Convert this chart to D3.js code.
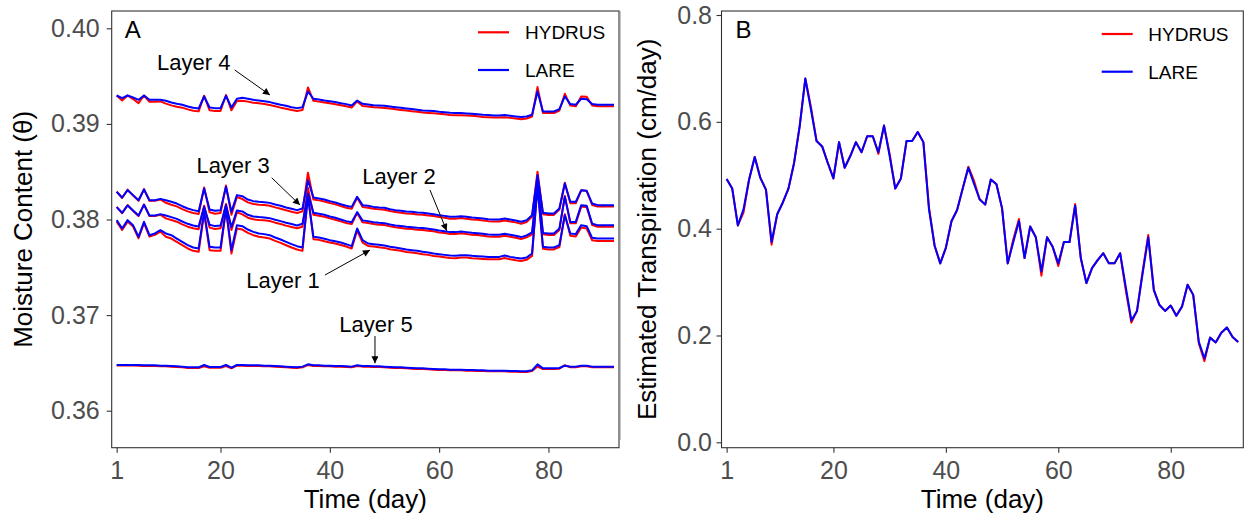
<!DOCTYPE html>
<html>
<head>
<meta charset="utf-8">
<script src="https://cdn.jsdelivr.net/npm/d3@7"></script>
<style>
	body { margin: 0; background: #fff; }
	svg { font-family: 'Liberation Sans', Arial, sans-serif; display: block; }
</style>
</head>
<body>
<svg id="chart" width="1244" height="519"></svg>
<script>
// day index shared by every series
const days = d3.range(1, 93)

// Panel A: soil moisture per layer, HYDRUS and LARE
const layer1Hydrus = [0.37978, 0.37891, 0.37978, 0.37926, 0.37804, 0.37961, 0.37821, 0.37839, 0.37873, 0.37819, 0.37801, 0.37766, 0.37731, 0.37697, 0.37672, 0.37662, 0.3807, 0.37679, 0.37672, 0.37672, 0.38105, 0.37644, 0.37906, 0.37895, 0.3786, 0.37836, 0.37819, 0.37812, 0.37801, 0.37777, 0.37756, 0.37731, 0.37707, 0.37686, 0.37672, 0.38257, 0.37794, 0.37787, 0.37773, 0.37759, 0.37748, 0.37734, 0.37717, 0.37696, 0.37886, 0.37759, 0.37724, 0.37717, 0.3771, 0.37703, 0.37689, 0.37682, 0.37672, 0.37661, 0.37654, 0.37647, 0.37637, 0.3763, 0.37619, 0.37612, 0.37605, 0.37598, 0.37595, 0.37602, 0.37602, 0.37595, 0.37591, 0.37588, 0.37584, 0.37584, 0.37584, 0.37598, 0.37584, 0.37574, 0.37567, 0.37578, 0.37619, 0.38362, 0.37694, 0.37687, 0.37687, 0.37712, 0.38055, 0.37829, 0.37822, 0.37916, 0.37905, 0.37783, 0.37776, 0.37776, 0.37776, 0.37776]
const layer1Lare = [0.37993, 0.37906, 0.37993, 0.37941, 0.37819, 0.37976, 0.37836, 0.37854, 0.37888, 0.37854, 0.37836, 0.37801, 0.37766, 0.37732, 0.37707, 0.37697, 0.3808, 0.37714, 0.37707, 0.37707, 0.38115, 0.37679, 0.37941, 0.3793, 0.37895, 0.37871, 0.37854, 0.37847, 0.37836, 0.37812, 0.37791, 0.37766, 0.37742, 0.37721, 0.37707, 0.38237, 0.37819, 0.37812, 0.37798, 0.37784, 0.37773, 0.37759, 0.37742, 0.37721, 0.37906, 0.37784, 0.37749, 0.37742, 0.37735, 0.37728, 0.37714, 0.37707, 0.37697, 0.37686, 0.37679, 0.37672, 0.37662, 0.37655, 0.37644, 0.37637, 0.3763, 0.37623, 0.3762, 0.37627, 0.37627, 0.3762, 0.37616, 0.37613, 0.37609, 0.37609, 0.37609, 0.37623, 0.37609, 0.37599, 0.37592, 0.37603, 0.37644, 0.38342, 0.37714, 0.37707, 0.37707, 0.37732, 0.38045, 0.37854, 0.37847, 0.37941, 0.3793, 0.37808, 0.37801, 0.37801, 0.37801, 0.37801]
const layer2Hydrus = [0.38133, 0.38065, 0.38152, 0.3809, 0.38036, 0.38158, 0.38036, 0.38036, 0.3805, 0.38012, 0.37995, 0.37977, 0.37949, 0.37925, 0.37908, 0.37897, 0.38144, 0.37915, 0.37901, 0.37908, 0.38162, 0.3789, 0.38075, 0.38054, 0.38019, 0.38002, 0.37995, 0.37991, 0.37984, 0.37967, 0.37953, 0.37936, 0.37922, 0.37908, 0.37925, 0.38331, 0.3805, 0.3804, 0.38029, 0.38012, 0.37998, 0.3798, 0.37963, 0.37952, 0.38067, 0.3797, 0.37963, 0.37952, 0.37946, 0.37942, 0.37928, 0.37918, 0.37911, 0.37904, 0.379, 0.37893, 0.3789, 0.37883, 0.37876, 0.37865, 0.37858, 0.37848, 0.37848, 0.37855, 0.37848, 0.37841, 0.37837, 0.3783, 0.37823, 0.3782, 0.3782, 0.3783, 0.3782, 0.3781, 0.37796, 0.37813, 0.37845, 0.38424, 0.37845, 0.37838, 0.37838, 0.3789, 0.38247, 0.3796, 0.3796, 0.38135, 0.38128, 0.37942, 0.37925, 0.37925, 0.37925, 0.37925]
const layer2Lare = [0.38129, 0.3807, 0.38147, 0.38095, 0.38042, 0.38154, 0.38042, 0.38042, 0.38056, 0.38042, 0.38025, 0.38007, 0.37979, 0.37955, 0.37938, 0.37927, 0.38134, 0.37945, 0.37931, 0.37938, 0.38152, 0.3792, 0.38095, 0.38084, 0.38049, 0.38032, 0.38025, 0.38021, 0.38014, 0.37997, 0.37983, 0.37966, 0.37952, 0.37938, 0.37955, 0.38271, 0.3807, 0.3806, 0.38049, 0.38032, 0.38018, 0.38, 0.37983, 0.37972, 0.38077, 0.3799, 0.37983, 0.37972, 0.37966, 0.37962, 0.37948, 0.37938, 0.37931, 0.37924, 0.3792, 0.37913, 0.3791, 0.37903, 0.37896, 0.37885, 0.37878, 0.37868, 0.37868, 0.37875, 0.37868, 0.37861, 0.37857, 0.3785, 0.37843, 0.3784, 0.3784, 0.3785, 0.3784, 0.3783, 0.37816, 0.37833, 0.37865, 0.38384, 0.3786, 0.37853, 0.37853, 0.37905, 0.38237, 0.37975, 0.37975, 0.3815, 0.38143, 0.37957, 0.3794, 0.3794, 0.3794, 0.3794]
const layer3Hydrus = [0.38293, 0.38225, 0.38312, 0.3825, 0.38196, 0.38318, 0.38196, 0.38196, 0.3821, 0.38175, 0.38155, 0.38137, 0.38109, 0.38085, 0.38068, 0.38057, 0.38335, 0.38075, 0.38061, 0.38068, 0.38355, 0.3805, 0.38235, 0.38214, 0.38179, 0.38162, 0.38155, 0.38151, 0.38144, 0.38127, 0.38113, 0.38096, 0.38082, 0.38068, 0.38085, 0.3849, 0.3821, 0.382, 0.38189, 0.38172, 0.38158, 0.3814, 0.38123, 0.38112, 0.38227, 0.3813, 0.38123, 0.38112, 0.38106, 0.38102, 0.38088, 0.38078, 0.38071, 0.38064, 0.3806, 0.38053, 0.3805, 0.38043, 0.38036, 0.38025, 0.38018, 0.38008, 0.38008, 0.38015, 0.38008, 0.38001, 0.37997, 0.3799, 0.37983, 0.3798, 0.3798, 0.3799, 0.3798, 0.3797, 0.37956, 0.37973, 0.3803, 0.385, 0.38055, 0.38048, 0.38048, 0.38105, 0.38385, 0.3817, 0.3817, 0.38305, 0.38298, 0.38152, 0.38135, 0.38135, 0.38135, 0.38135]
const layer3Lare = [0.38289, 0.3823, 0.38307, 0.38255, 0.38202, 0.38314, 0.38202, 0.38202, 0.38216, 0.38202, 0.38185, 0.38167, 0.38139, 0.38115, 0.38098, 0.38087, 0.38324, 0.38105, 0.38091, 0.38098, 0.38342, 0.3808, 0.38255, 0.38244, 0.38209, 0.38192, 0.38185, 0.38181, 0.38174, 0.38157, 0.38143, 0.38126, 0.38112, 0.38098, 0.38115, 0.38411, 0.3823, 0.3822, 0.38209, 0.38192, 0.38178, 0.3816, 0.38143, 0.38132, 0.38237, 0.3815, 0.38143, 0.38132, 0.38126, 0.38122, 0.38108, 0.38098, 0.38091, 0.38084, 0.3808, 0.38073, 0.3807, 0.38063, 0.38056, 0.38045, 0.38038, 0.38028, 0.38028, 0.38035, 0.38028, 0.38021, 0.38017, 0.3801, 0.38003, 0.38, 0.38, 0.3801, 0.38, 0.3799, 0.37976, 0.37993, 0.38045, 0.38464, 0.3807, 0.38063, 0.38063, 0.38115, 0.38377, 0.38185, 0.38185, 0.38307, 0.383, 0.38167, 0.3815, 0.3815, 0.3815, 0.3815]
const layer4Hydrus = [0.39297, 0.39245, 0.39297, 0.3926, 0.39217, 0.39297, 0.39232, 0.39232, 0.39235, 0.39212, 0.39194, 0.3918, 0.3917, 0.39152, 0.39138, 0.39131, 0.39295, 0.39142, 0.39135, 0.39135, 0.39302, 0.39142, 0.3924, 0.39243, 0.39233, 0.39222, 0.39215, 0.39208, 0.39198, 0.39184, 0.3917, 0.39159, 0.39145, 0.39135, 0.39145, 0.39381, 0.39241, 0.39233, 0.39223, 0.39216, 0.39206, 0.39195, 0.39185, 0.39171, 0.39235, 0.39188, 0.39181, 0.39174, 0.39171, 0.39167, 0.3916, 0.39153, 0.39146, 0.39139, 0.39133, 0.39126, 0.39119, 0.39115, 0.39112, 0.39105, 0.39101, 0.39094, 0.39091, 0.39091, 0.39087, 0.39084, 0.3908, 0.39073, 0.3907, 0.39066, 0.39066, 0.3907, 0.39063, 0.39056, 0.39049, 0.39056, 0.39078, 0.39385, 0.39113, 0.39113, 0.39113, 0.3914, 0.39315, 0.39192, 0.39185, 0.39287, 0.39283, 0.39192, 0.39185, 0.39185, 0.39185, 0.39185]
const layer4Lare = [0.39297, 0.3927, 0.39297, 0.39277, 0.39252, 0.39297, 0.39252, 0.39252, 0.39252, 0.39242, 0.39224, 0.3921, 0.392, 0.39182, 0.39168, 0.39161, 0.39287, 0.39172, 0.39165, 0.39165, 0.39294, 0.39172, 0.39263, 0.39273, 0.39263, 0.39252, 0.39245, 0.39238, 0.39228, 0.39214, 0.392, 0.39189, 0.39175, 0.39165, 0.39175, 0.39339, 0.39263, 0.39255, 0.39245, 0.39238, 0.39228, 0.39217, 0.39207, 0.39193, 0.39245, 0.3921, 0.39203, 0.39196, 0.39193, 0.39189, 0.39182, 0.39175, 0.39168, 0.39161, 0.39155, 0.39148, 0.39141, 0.39137, 0.39134, 0.39127, 0.39123, 0.39116, 0.39113, 0.39113, 0.39109, 0.39106, 0.39102, 0.39095, 0.39092, 0.39088, 0.39088, 0.39092, 0.39085, 0.39078, 0.39071, 0.39078, 0.39095, 0.39339, 0.3913, 0.3913, 0.3913, 0.39155, 0.39287, 0.39207, 0.392, 0.39263, 0.39259, 0.39207, 0.392, 0.392, 0.392, 0.392]
const layer5Hydrus = [0.36473, 0.36475, 0.36473, 0.36473, 0.36471, 0.36468, 0.36468, 0.36468, 0.36464, 0.36464, 0.36461, 0.36457, 0.36454, 0.36447, 0.36447, 0.36447, 0.36465, 0.3645, 0.3645, 0.3645, 0.36468, 0.36443, 0.36471, 0.36471, 0.36468, 0.36468, 0.36468, 0.36464, 0.36464, 0.36461, 0.36457, 0.36454, 0.3645, 0.36447, 0.36454, 0.36478, 0.36468, 0.36468, 0.36464, 0.36464, 0.36461, 0.36461, 0.36457, 0.36454, 0.36468, 0.36461, 0.36461, 0.36457, 0.36457, 0.36454, 0.3645, 0.36447, 0.36447, 0.36443, 0.3644, 0.36436, 0.36436, 0.36433, 0.36429, 0.36426, 0.36426, 0.36422, 0.36422, 0.36422, 0.36419, 0.36419, 0.36415, 0.36415, 0.36412, 0.36412, 0.36412, 0.36412, 0.36408, 0.36408, 0.36405, 0.36405, 0.36415, 0.36462, 0.36436, 0.36436, 0.36436, 0.3644, 0.36476, 0.36454, 0.36454, 0.36466, 0.36466, 0.36454, 0.36454, 0.36454, 0.36454, 0.36454]
const layer5Lare = [0.36478, 0.36478, 0.36478, 0.36478, 0.36478, 0.36475, 0.36475, 0.36475, 0.36471, 0.36471, 0.36468, 0.36464, 0.36461, 0.36454, 0.36454, 0.36454, 0.36478, 0.36457, 0.36457, 0.36457, 0.36478, 0.3645, 0.36478, 0.36478, 0.36475, 0.36475, 0.36475, 0.36471, 0.36471, 0.36468, 0.36464, 0.36461, 0.36457, 0.36454, 0.36461, 0.36485, 0.36475, 0.36475, 0.36471, 0.36471, 0.36468, 0.36468, 0.36464, 0.36461, 0.36475, 0.36468, 0.36468, 0.36464, 0.36464, 0.36461, 0.36457, 0.36454, 0.36454, 0.3645, 0.36447, 0.36443, 0.36443, 0.3644, 0.36436, 0.36433, 0.36433, 0.36429, 0.36429, 0.36429, 0.36426, 0.36426, 0.36422, 0.36422, 0.36419, 0.36419, 0.36419, 0.36419, 0.36415, 0.36415, 0.36412, 0.36412, 0.36422, 0.36485, 0.36443, 0.36443, 0.36443, 0.36447, 0.36471, 0.36461, 0.36461, 0.36471, 0.36471, 0.36461, 0.36461, 0.36461, 0.36461, 0.36461]

// Panel B: estimated transpiration (cm/day)
const transpHydrus = [0.493, 0.475, 0.406, 0.43, 0.492, 0.534, 0.495, 0.473, 0.37, 0.427, 0.449, 0.475, 0.523, 0.592, 0.681, 0.628, 0.564, 0.554, 0.523, 0.494, 0.562, 0.514, 0.536, 0.562, 0.543, 0.573, 0.573, 0.54, 0.593, 0.54, 0.475, 0.494, 0.564, 0.564, 0.581, 0.562, 0.44, 0.368, 0.335, 0.364, 0.414, 0.435, 0.475, 0.516, 0.49, 0.455, 0.445, 0.492, 0.483, 0.438, 0.335, 0.38, 0.418, 0.345, 0.404, 0.384, 0.312, 0.384, 0.366, 0.33, 0.375, 0.375, 0.446, 0.345, 0.298, 0.326, 0.341, 0.354, 0.335, 0.335, 0.354, 0.285, 0.224, 0.246, 0.32, 0.388, 0.285, 0.257, 0.246, 0.256, 0.237, 0.254, 0.295, 0.276, 0.185, 0.152, 0.196, 0.187, 0.205, 0.215, 0.197, 0.188]
const transpLare = [0.493, 0.475, 0.406, 0.436, 0.492, 0.534, 0.495, 0.473, 0.375, 0.427, 0.449, 0.475, 0.523, 0.592, 0.681, 0.623, 0.564, 0.554, 0.523, 0.494, 0.562, 0.514, 0.536, 0.562, 0.543, 0.573, 0.573, 0.543, 0.593, 0.536, 0.475, 0.494, 0.564, 0.564, 0.581, 0.562, 0.436, 0.368, 0.335, 0.364, 0.414, 0.435, 0.475, 0.514, 0.484, 0.455, 0.445, 0.492, 0.483, 0.438, 0.335, 0.375, 0.414, 0.345, 0.404, 0.384, 0.32, 0.384, 0.366, 0.335, 0.375, 0.375, 0.443, 0.345, 0.298, 0.326, 0.341, 0.354, 0.335, 0.335, 0.354, 0.291, 0.228, 0.246, 0.316, 0.384, 0.285, 0.257, 0.246, 0.256, 0.237, 0.254, 0.295, 0.276, 0.188, 0.157, 0.196, 0.187, 0.205, 0.215, 0.197, 0.188]

// ticks, labels and legend entries
const dayTicks = [1, 20, 40, 60, 80]
const moistureTicks = [0.36, 0.37, 0.38, 0.39, 0.4]
const transpTicks = [0, 0.2, 0.4, 0.6, 0.8]
const models = ['HYDRUS', 'LARE']
const layerNames = ['Layer 1', 'Layer 2', 'Layer 3', 'Layer 4', 'Layer 5']

const theme = {
	HYDRUS: '#ff0000',
	LARE: '#0000ff',
	frame: '#333333',
	tickText: '#4d4d4d',
	lineWidth: 2,
	fontTick: 25,
	fontTitle: 26,
	fontNote: 22,
	fontLegend: 19,
	fontTag: 24,
}

const svg = d3.select('#chart')

//Arrow head used by the layer annotations
svg
	.append('defs')
	.append('marker')
	.attr('id', 'arrow')
	.attr('viewBox', '0 0 10 10')
	.attr('refX', 10)
	.attr('refY', 5)
	.attr('markerUnits', 'userSpaceOnUse')
	.attr('markerWidth', 9)
	.attr('markerHeight', 7)
	.attr('orient', 'auto')
	.append('path')
	.attr('d', 'M0,0 L10,5 L0,10 z')
	.attr('fill', '#000')

//Thin grey seam left between the two panels
svg
	.append('line')
	.attr('x1', 620.5)
	.attr('x2', 620.5)
	.attr('y1', 11)
	.attr('y2', 440)
	.attr('stroke', '#c4c4c4')
	.attr('stroke-width', 1)

//Draws one panel: frame, axes, lines and legend
function drawPanel(p) {
	const x = d3.scaleLinear().domain([0.09, 92.91]).range([p.left, p.right])
	const y = d3.scaleLinear().domain(p.yDomain).range([p.bottom, p.top])

	const g = svg.append('g')

	//x axis
	const xAxis = g
		.append('g')
		.attr('transform', 'translate(0,' + p.bottom + ')')
		.call(d3.axisBottom(x).tickValues(dayTicks).tickSize(5).tickPadding(9).tickFormat(d3.format('d')))
	styleAxis(xAxis)

	//y axis
	const yAxis = g
		.append('g')
		.attr('transform', 'translate(' + p.left + ',0)')
		.call(d3.axisLeft(y).tickValues(p.yTicks).tickSize(5).tickPadding(p.yPad).tickFormat(d3.format(p.yFormat)))
	styleAxis(yAxis)

	//series, red first so the blue sits on top
	const line = d3
		.line()
		.x((d, i) => x(days[i]))
		.y(d => y(d))

	models.forEach(m => {
		p.series
			.filter(s => s.model == m)
			.forEach(s => {
				g.append('path')
					.attr('d', line(s.values))
					.attr('fill', 'none')
					.attr('stroke', theme[m])
					.attr('stroke-width', theme.lineWidth)
					.attr('stroke-linejoin', 'round')
			})
	})

	//panel border
	g.append('rect')
		.attr('x', p.left)
		.attr('y', p.top)
		.attr('width', p.right - p.left)
		.attr('height', p.bottom - p.top)
		.attr('fill', 'none')
		.attr('stroke', theme.frame)
		.attr('stroke-width', 1.1)

	//panel tag
	g.append('text')
		.attr('x', p.left + p.tagDx)
		.attr('y', p.top + 27)
		.attr('fill', '#000')
		.style('font-size', theme.fontTag + 'px')
		.text(p.tag)

	//legend
	const legend = g.append('g').attr('transform', 'translate(' + p.legendX + ',' + p.legendY + ')')
	models.forEach((m, i) => {
		legend
			.append('line')
			.attr('x1', 0)
			.attr('x2', 31)
			.attr('y1', i * 37.7)
			.attr('y2', i * 37.7)
			.attr('stroke', theme[m])
			.attr('stroke-width', 2.2)
		legend
			.append('text')
			.attr('x', p.legendGap)
			.attr('y', i * 37.7)
			.attr('dy', '0.36em')
			.attr('fill', '#000')
			.style('font-size', theme.fontLegend + 'px')
			.text(m)
	})

	//axis titles
	g.append('text')
		.attr('x', (p.left + p.right) / 2)
		.attr('y', 508)
		.attr('text-anchor', 'middle')
		.attr('fill', '#000')
		.style('font-size', theme.fontTitle + 'px')
		.text('Time (day)')

	g.append('text')
		.attr('transform', 'translate(' + p.titleX + ',' + (p.top + p.bottom) / 2 + ') rotate(-90)')
		.attr('text-anchor', 'middle')
		.attr('fill', '#000')
		.style('font-size', theme.fontTitle + 'px')
		.text(p.yTitle)

	return { x, y, g }
}

//Styles a d3 axis like the ggplot axes of the figure
function styleAxis(axis) {
	axis.select('.domain').remove()
	axis.selectAll('.tick line').attr('stroke', theme.frame).attr('stroke-width', 1.1)
	axis
		.selectAll('.tick text')
		.attr('fill', theme.tickText)
		.style('font-size', theme.fontTick + 'px')
		.style('font-family', "'Liberation Sans', Arial, sans-serif")
}

//Panel A
const panelA = drawPanel({
	left: 111.7,
	right: 619,
	top: 11,
	bottom: 447.7,
	yDomain: [0.35613, 0.40181],
	yTicks: moistureTicks,
	yFormat: '.2f',
	yPad: 7,
	yTitle: 'Moisture Content (\u03b8)',
	titleX: 32,
	tag: 'A',
	tagDx: 13,
	legendX: 478,
	legendY: 32.3,
	legendGap: 47,
	series: [
		{ model: 'HYDRUS', values: layer1Hydrus },
		{ model: 'HYDRUS', values: layer2Hydrus },
		{ model: 'HYDRUS', values: layer3Hydrus },
		{ model: 'HYDRUS', values: layer4Hydrus },
		{ model: 'HYDRUS', values: layer5Hydrus },
		{ model: 'LARE', values: layer1Lare },
		{ model: 'LARE', values: layer2Lare },
		{ model: 'LARE', values: layer3Lare },
		{ model: 'LARE', values: layer4Lare },
		{ model: 'LARE', values: layer5Lare },
	],
})

//Panel B
drawPanel({
	left: 721.5,
	right: 1243.3,
	top: 11,
	bottom: 447.7,
	yDomain: [-0.0101, 0.8075],
	yTicks: transpTicks,
	yFormat: '.1f',
	yPad: 4.5,
	yTitle: 'Estimated Transpiration (cm/day)',
	titleX: 656,
	tag: 'B',
	tagDx: 14,
	legendX: 1101.7,
	legendY: 34,
	legendGap: 46.6,
	series: [
		{ model: 'HYDRUS', values: transpHydrus },
		{ model: 'LARE', values: transpLare },
	],
})

//Layer call-outs in panel A, placed in data units (day, moisture)
const notes = [
	{ text: layerNames[3], at: [15.1, 0.39564], from: [22.6, 0.39564], to: [29.05, 0.39302] },
	{ text: layerNames[2], at: [22.3, 0.38483], from: [29.36, 0.38437], to: [34.54, 0.38152] },
	{ text: layerNames[1], at: [52.65, 0.38368], from: [58.32, 0.38309], to: [61.38, 0.37883] },
	{ text: layerNames[0], at: [31.43, 0.37283], from: [39.11, 0.37419], to: [47.35, 0.3768] },
	{ text: layerNames[4], at: [48.44, 0.36826], from: [48.26, 0.36781], to: [48.26, 0.36496] },
]

const { x: ax, y: ay, g: ag } = panelA

notes.forEach(n => {
	ag.append('text')
		.attr('x', ax(n.at[0]))
		.attr('y', ay(n.at[1]))
		.attr('text-anchor', 'middle')
		.attr('fill', '#000')
		.style('font-size', theme.fontNote + 'px')
		.text(n.text)

	ag.append('line')
		.attr('x1', ax(n.from[0]))
		.attr('y1', ay(n.from[1]))
		.attr('x2', ax(n.to[0]))
		.attr('y2', ay(n.to[1]))
		.attr('stroke', '#000')
		.attr('stroke-width', 1)
		.attr('marker-end', 'url(#arrow)')
})
</script>
</body>
</html>
